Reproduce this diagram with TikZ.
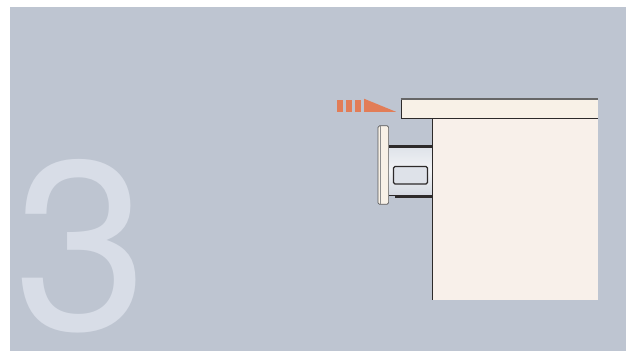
\documentclass[tikz,border=0pt]{standalone}
\usepackage{fontspec}
\setmainfont{TeX Gyre Heros}
\definecolor{pagebg}{RGB}{190,197,209}
\definecolor{numeral}{RGB}{216,221,231}
\definecolor{board}{RGB}{248,241,231}
\definecolor{cab}{RGB}{248,240,234}
\definecolor{arrowc}{RGB}{226,125,87}
\definecolor{ink}{RGB}{45,42,42}
\definecolor{slide}{RGB}{222,226,233}
\tikzset{
  dashbox/.style={fill=arrowc,draw=none},
  edge/.style={draw=ink,line width=0.8pt},
}
\begin{document}
\begin{tikzpicture}[x=1pt,y=-1pt]
\useasboundingbox (0,0) rectangle (627,351);
\fill[white] (0,0) rectangle (627,351);
\fill[pagebg] (10,7) rectangle (626,351);
% numeral
\node[inner sep=0pt,anchor=center,text=numeral,font=\fontsize{240}{240}\selectfont] (three) at (81,246) {3};
% cabinet
\fill[cab] (432,118) rectangle (598,300);
\draw[edge] (432,118) -- (432,300);
% top board
\fill[board] (401,99) rectangle (598,118.3);
\draw[edge] (598,118.3) -- (401,118.3) -- (401,99);
\draw[draw=black!60,line width=1.3pt] (400.6,99) -- (598,99);
% slide
\shade[top color=slide,bottom color=slide!70!pagebg,middle color=white!60!slide] (388.7,146) rectangle (431.5,195);
\fill[ink] (388.7,145.3) rectangle (431.5,147.6);
\fill[ink] (388.7,194.5) rectangle (431.5,196.2);
\fill[ink] (395,196.2) rectangle (431.5,198.3);
% window
\draw[draw=ink,line width=1.2pt,fill=slide,rounded corners=1.5pt] (393.5,166.5) rectangle (427.5,184);
% front
\draw[draw=black!65,line width=0.7pt,fill=board,rounded corners=1.5pt] (378,125.8) rectangle (388.6,204.3);
\draw[draw=black!45,line width=0.4pt] (380.2,126) -- (380.2,204);
% arrow
\fill[dashbox] (337,100) rectangle (343,112);
\fill[dashbox] (346,100) rectangle (352,112);
\fill[dashbox] (355,100) rectangle (361,112);
\fill[arrowc] (364,98.7) -- (396,111.8) -- (364,111.8) -- cycle;
\end{tikzpicture}
\end{document}
